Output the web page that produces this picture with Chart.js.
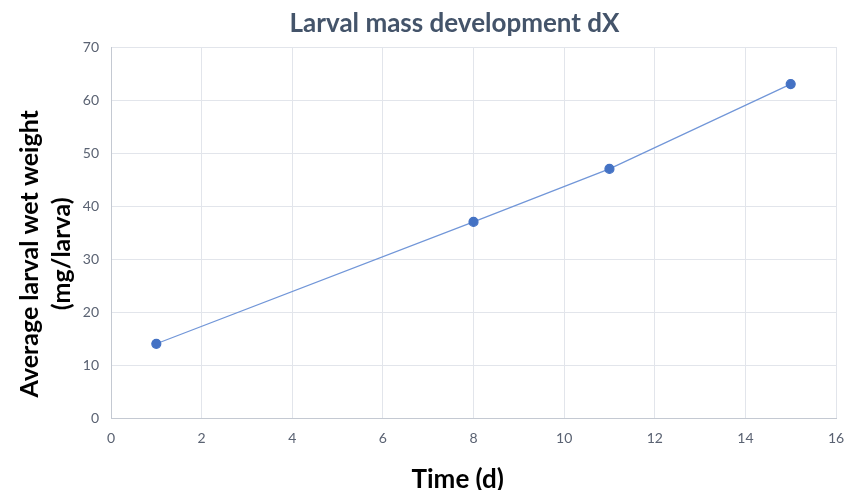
<!DOCTYPE html>
<html>
<head>
<meta charset="utf-8">
<script src="https://cdn.jsdelivr.net/npm/chart.js@4/dist/chart.umd.min.js"></script>
<style>
  html, body { margin: 0; padding: 0; background: #fff; }
  #wrap { width: 846px; height: 490px; }
</style>
</head>
<body>
<div id="wrap"><canvas id="massChart"></canvas></div>
<script>
const days = [1, 8, 11, 15];
const wetWeight = [14, 37, 47, 63];

const points = days.map((d, i) => ({ x: d, y: wetWeight[i] }));

// trailing blanks nudge the titles off the exact centre of the plot
const yTitle = ['Average larval wet weight', '(mg/larva)'].map(t => t + '       ');
const xTitle = 'Time (d)' + '     ';
const chartTitle = 'Larval mass development dX' + '      ';

const ctx = document.querySelector('#massChart');

new Chart(ctx, {
  type: 'scatter',
  data: {
    datasets: [
      {
        label: 'dX',
        data: points,
        showLine: true,
        borderColor: '#7196d8',
        borderWidth: 1.2,
        pointBackgroundColor: '#4472c4',
        pointBorderColor: '#4472c4',
        pointRadius: 4.5,
        pointHoverRadius: 5
      }
    ]
  },
  options: {
    responsive: true,
    maintainAspectRatio: false,
    animation: false,
    layout: {
      padding: { left: 0, right: 0, top: 0, bottom: 0 }
    },
    plugins: {
      legend: { display: false },
      tooltip: { enabled: false },
      title: {
        display: true,
        fullSize: false,
        text: chartTitle,
        color: '#44546a',
        font: { family: 'Lato', size: 26, weight: 'bold' },
        padding: { top: 8, bottom: 7.8 }
      }
    },
    scales: {
      x: {
        type: 'linear',
        min: 0,
        max: 16,
        ticks: {
          stepSize: 2,
          color: '#5a6272',
          font: { family: 'Lato', size: 14 },
          padding: 12
        },
        grid: { color: '#e2e5eb', drawTicks: false },
        border: { color: '#c4c9d2' },
        title: {
          display: true,
          text: xTitle,
          color: '#000',
          font: { family: 'Lato', size: 26, weight: 'bold' },
          padding: { top: 0, bottom: -5 }
        },
        afterFit: (scale) => {
          scale.height = 72;
          scale.paddingRight = 10;
        }
      },
      y: {
        min: 0,
        max: 70,
        ticks: {
          stepSize: 10,
          color: '#5a6272',
          font: { family: 'Lato', size: 14 },
          padding: 12
        },
        grid: { color: '#e2e5eb', drawTicks: false },
        border: { color: '#c4c9d2' },
        title: {
          display: true,
          text: yTitle,
          color: '#000',
          font: { family: 'Lato', size: 25, weight: 'bold', lineHeight: 1.28 },
          padding: { top: 14, bottom: 0 }
        },
        afterFit: (scale) => { scale.width = 111; }
      }
    }
  }
});
</script>
</body>
</html>
